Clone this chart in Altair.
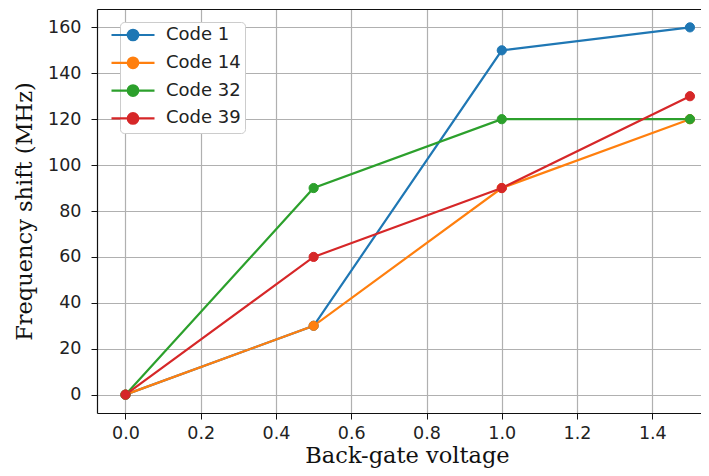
import altair as alt
import pandas as pd

voltage = [0.0, 0.5, 1.0, 1.5]
series_names = ["Code 1", "Code 14", "Code 32", "Code 39"]
code_1 = [0, 30, 150, 160]
code_14 = [0, 30, 90, 120]
code_32 = [0, 90, 120, 120]
code_39 = [0, 60, 90, 130]
colors = ["#1f77b4", "#ff7f0e", "#2ca02c", "#d62728"]
x_ticks = [0.0, 0.2, 0.4, 0.6, 0.8, 1.0, 1.2, 1.4]
y_ticks = [0, 20, 40, 60, 80, 100, 120, 140, 160]

rows = []
for i, (name, vals) in enumerate(zip(series_names, [code_1, code_14, code_32, code_39])):
    for v, f in zip(voltage, vals):
        rows.append({"series": name, "order": i, "voltage": v, "shift": f})
df = pd.DataFrame(rows)

x_scale = alt.Scale(domain=[-0.0757, 1.5294], nice=False, zero=False)
y_scale = alt.Scale(domain=[-8, 168], nice=False, zero=False)
color_scale = alt.Scale(domain=series_names, range=colors)

legend_path = "M-4.3,0L4.3,0M-1.05,0A1.05,1.05,0,1,1,1.05,0A1.05,1.05,0,1,1,-1.05,0Z"

legend = alt.Legend(
    title=None,
    orient="none",
    legendX=23,
    legendY=13,
    symbolType=legend_path,
    symbolSize=100,
    symbolStrokeWidth=2.2,
    labelOffset=24,
    labelFont="DejaVu Sans",
    labelFontSize=18,
    labelColor="#222222",
    rowPadding=7.8,
    padding=4,
    strokeColor="#cccccc",
    fillColor="#ffffff",
    cornerRadius=4,
)

lines = alt.Chart(df).mark_line(strokeWidth=2.2).encode(
    x=alt.X(
        "voltage:Q",
        scale=x_scale,
        axis=alt.Axis(
            values=x_ticks,
            format=".1f",
            title="Back-gate voltage",
            titleX=310,
            titleY=49,
            titleBaseline="alphabetic",
            labelPadding=5,
        ),
    ),
    y=alt.Y(
        "shift:Q",
        scale=y_scale,
        axis=alt.Axis(
            values=y_ticks,
            title="Frequency shift (MHz)",
            titleX=-66,
            titleBaseline="alphabetic",
            labelPadding=10,
        ),
    ),
    color=alt.Color("series:N", scale=color_scale, legend=legend),
)

points = alt.Chart(df).mark_point(filled=True, size=85, opacity=1, strokeWidth=1).encode(
    x=alt.X(
        "voltage:Q",
        scale=x_scale,
        axis=alt.Axis(orient="top", labels=False, ticks=False, grid=False, title=None),
    ),
    y=alt.Y("shift:Q", scale=y_scale),
    color=alt.Color("series:N", scale=color_scale, legend=legend),
    stroke=alt.Stroke("series:N", scale=color_scale, legend=legend),
    order=alt.Order("order:Q"),
)

chart = (
    alt.layer(lines, points)
    .resolve_axis(x="independent")
    .properties(
        width=604,
        height=404,
        autosize=alt.AutoSizeParams(type="none"),
        padding={"left": 89, "top": 1, "right": 0, "bottom": 55},
    )
    .configure_view(stroke=None)
    .configure_axis(
        domainColor="#111111",
        domainWidth=1.2,
        tickColor="#111111",
        tickSize=6,
        gridColor="#b0b0b0",
        gridWidth=1.2,
        labelFont="DejaVu Sans",
        labelFontSize=17.5,
        labelColor="#222222",
        titleFont="DejaVu Serif",
        titleFontSize=22.5,
        titleFontWeight="normal",
        titleColor="#111111",
    )
)

chart.save("out.html", embed_options={"renderer": "svg", "actions": False})
